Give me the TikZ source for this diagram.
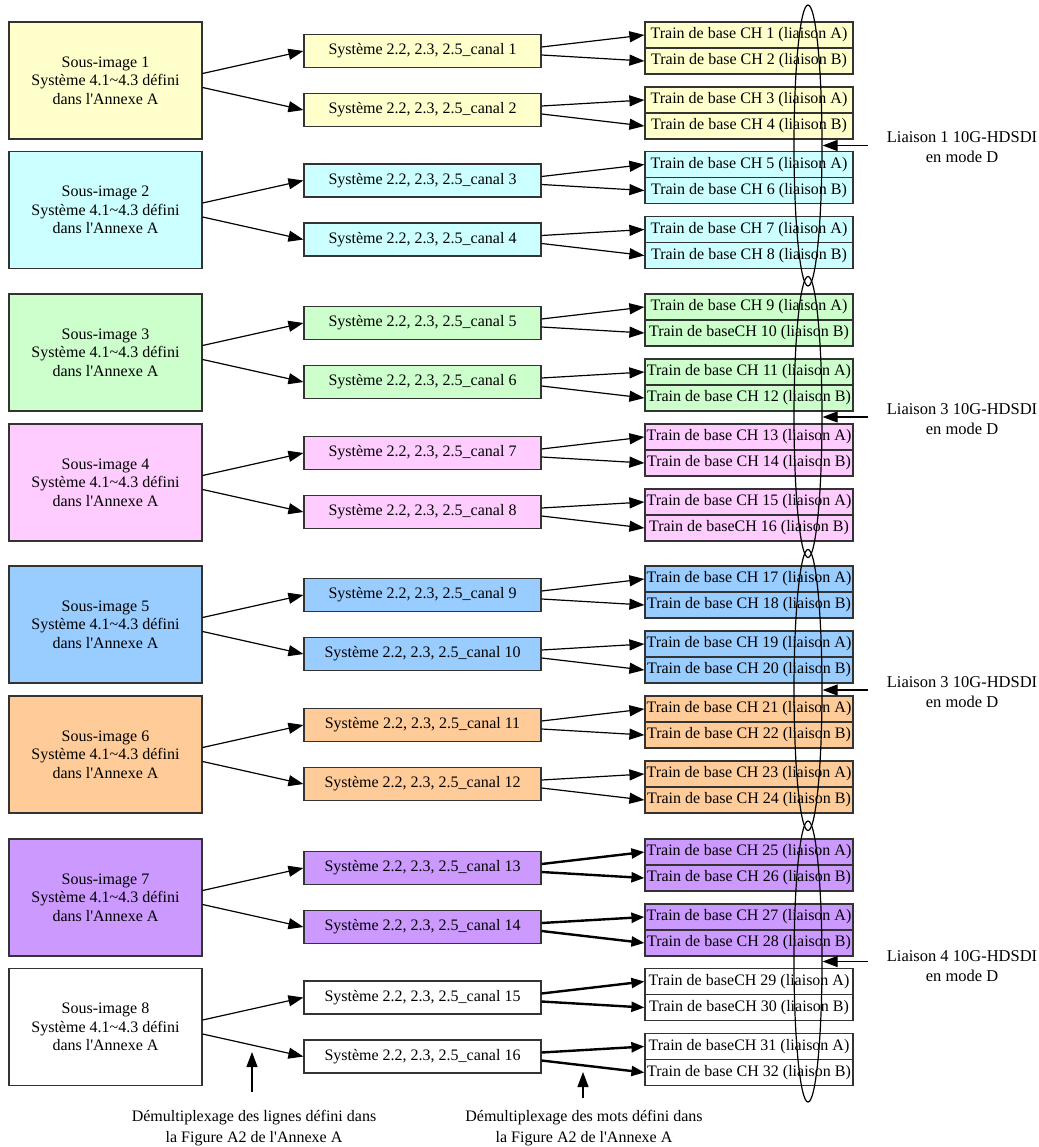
\documentclass[tikz,border=0pt]{standalone}
\usepackage{fontspec}
\setmainfont{Liberation Serif}
\usetikzlibrary{arrows.meta,shapes.geometric}
\definecolor{cY}{HTML}{FFFFCC}
\definecolor{cC}{HTML}{CCFFFF}
\definecolor{cG}{HTML}{CCFFCC}
\definecolor{cP}{HTML}{FFCCFF}
\definecolor{cB}{HTML}{99CCFF}
\definecolor{cO}{HTML}{FFCC99}
\definecolor{cV}{HTML}{CC99FF}
\definecolor{cW}{HTML}{FFFFFF}
\definecolor{bordergray}{HTML}{333333}
\begin{document}
\begin{tikzpicture}[x=1pt,y=-1pt,
  font=\fontsize{16}{18.5}\selectfont,
  srcbox/.style={draw=bordergray, line width=1.2pt, minimum width=193pt, minimum height=117pt, align=center, inner sep=0pt},
  midbox/.style={draw=bordergray, line width=1.2pt, minimum width=237pt, minimum height=33pt, inner sep=0pt},
  outbox/.style={draw=bordergray, line width=1.2pt, minimum width=208pt, minimum height=26pt, inner sep=0pt},
  arr/.style={line width=1.2pt, -{Triangle[length=15pt,width=11pt]}},
  thickarr/.style={line width=2.4pt, -{Triangle[length=13pt,width=10pt]}},
  linkring/.style={draw, line width=1.2pt, ellipse, minimum width=28pt, minimum height=281pt, inner sep=0pt},
  note/.style={align=center, inner sep=0pt}]
\useasboundingbox (0,0) rectangle (1038,1147);
\fill[white] (0,0) rectangle (1038,1147);

% source boxes
\foreach \g/\gc/\col in {1/80.5/cY,2/210/cC,3/352.5/cG,4/482.5/cP,5/624.5/cB,6/754.5/cO,7/897.5/cV,8/1027/cW}{
  \node[srcbox, fill=\col] (s\g) at (105.5,\gc) {Sous-image \g\\Système 4.1\textasciitilde4.3 défini\\dans l\textquotesingle Annexe A};
}
% middle boxes
\foreach \m/\y/\col in {1/51/cY,2/110/cY,3/180.5/cC,4/239.5/cC,5/323/cG,6/382/cG,7/453/cP,8/512/cP,9/595/cB,10/654/cB,11/725/cO,12/784/cO,13/868/cV,14/927/cV,15/997.5/cW,16/1056.5/cW}{
  \node[midbox, fill=\col] (m\m) at (422.5,\y) {Système 2.2, 2.3, 2.5\_canal \m};
}
% output boxes
\foreach \n/\y/\col/\txt in {
  1/35/cY/Train de base CH 1 (liaison A),
  2/61/cY/Train de base CH 2 (liaison B),
  3/100/cY/Train de base CH 3 (liaison A),
  4/126/cY/Train de base CH 4 (liaison B),
  5/164.5/cC/Train de base CH 5 (liaison A),
  6/190.5/cC/Train de base CH 6 (liaison B),
  7/229.5/cC/Train de base CH 7 (liaison A),
  8/255.5/cC/Train de base CH 8 (liaison B),
  9/307/cG/Train de base CH 9 (liaison A),
  10/333/cG/Train de baseCH 10 (liaison B),
  11/372/cG/Train de base CH 11 (liaison A),
  12/398/cG/Train de base CH 12 (liaison B),
  13/437/cP/Train de base CH 13 (liaison A),
  14/463/cP/Train de base CH 14 (liaison B),
  15/502/cP/Train de base CH 15 (liaison A),
  16/528/cP/Train de baseCH 16 (liaison B),
  17/579/cB/Train de base CH 17 (liaison A),
  18/605/cB/Train de base CH 18 (liaison B),
  19/644/cB/Train de base CH 19 (liaison A),
  20/670/cB/Train de base CH 20 (liaison B),
  21/709/cO/Train de base CH 21 (liaison A),
  22/735/cO/Train de base CH 22 (liaison B),
  23/774/cO/Train de base CH 23 (liaison A),
  24/800/cO/Train de base CH 24 (liaison B),
  25/852/cV/Train de base CH 25 (liaison A),
  26/878/cV/Train de base CH 26 (liaison B),
  27/917/cV/Train de base CH 27 (liaison A),
  28/943/cV/Train de base CH 28 (liaison B),
  29/981.5/cW/Train de baseCH 29 (liaison A),
  30/1007.5/cW/Train de baseCH 30 (liaison B),
  31/1046.5/cW/Train de baseCH 31 (liaison A),
  32/1072.5/cW/Train de base CH 32 (liaison B)}{
  \node[outbox, fill=\col] (o\n) at (749,\y) {\txt};
}

% source -> middle
\foreach \g in {1,...,8}{
  \pgfmathtruncatemacro\ma{2*\g-1}
  \pgfmathtruncatemacro\mb{2*\g}
  \draw[arr] ([yshift=7pt]s\g.east) -- (m\ma.west);
  \draw[arr] ([yshift=-7pt]s\g.east) -- (m\mb.west);
}
% middle -> outputs
\foreach \m in {1,...,12}{
  \pgfmathtruncatemacro\oa{2*\m-1}
  \pgfmathtruncatemacro\ob{2*\m}
  \draw[arr] ([yshift=4pt]m\m.east) -- (o\oa.west);
  \draw[arr] ([yshift=-4pt]m\m.east) -- (o\ob.west);
}
\foreach \m in {13,...,16}{
  \pgfmathtruncatemacro\oa{2*\m-1}
  \pgfmathtruncatemacro\ob{2*\m}
  \draw[thickarr] ([yshift=4pt]m\m.east) -- (o\oa.west);
  \draw[thickarr] ([yshift=-4pt]m\m.east) -- (o\ob.west);
}

% link ellipses
\node[linkring] (e1) at (808,145.5) {};
\node[linkring] (e2) at (808,417) {};
\node[linkring] (e3) at (808,690) {};
\node[linkring] (e4) at (808,961.5) {};

% link labels
\node[note, font=\fontsize{16.5}{20}\selectfont] (l1) at (962,147) {Liaison 1 10G-HDSDI\\en mode D};
\node[note, font=\fontsize{16.5}{20}\selectfont] (l2) at (962,419) {Liaison 3 10G-HDSDI\\en mode D};
\node[note, font=\fontsize{16.5}{20}\selectfont] (l3) at (962,692) {Liaison 3 10G-HDSDI\\en mode D};
\node[note, font=\fontsize{16.5}{20}\selectfont] (l4) at (962,966) {Liaison 4 10G-HDSDI\\en mode D};
\coordinate (a1) at (868,145.5);
\coordinate (a2) at (868,417);
\coordinate (a3) at (868,690);
\coordinate (a4) at (868,961.5);
\draw[arr] (a1) -- (e1.east);
\draw[arr] (a2) -- (e2.east);
\draw[arr] (a3) -- (e3.east);
\draw[arr] (a4) -- (e4.east);

% bottom notes
\node[note, font=\fontsize{16}{21}\selectfont] (d1) at (254,1128) {Démultiplexage des lignes défini dans\\la Figure A2 de l\textquotesingle Annexe A};
\node[note, font=\fontsize{16}{21}\selectfont] (d2) at (584,1128) {Démultiplexage des mots défini dans\\la Figure A2 de l\textquotesingle Annexe A};
\coordinate (b1s) at (252,1092);
\coordinate (b1e) at (252,1052);
\coordinate (b2s) at (583,1098);
\coordinate (b2e) at (583,1072);
\draw[arr] (b1s) -- (b1e);
\draw[arr] (b2s) -- (b2e);
\end{tikzpicture}
\end{document}
